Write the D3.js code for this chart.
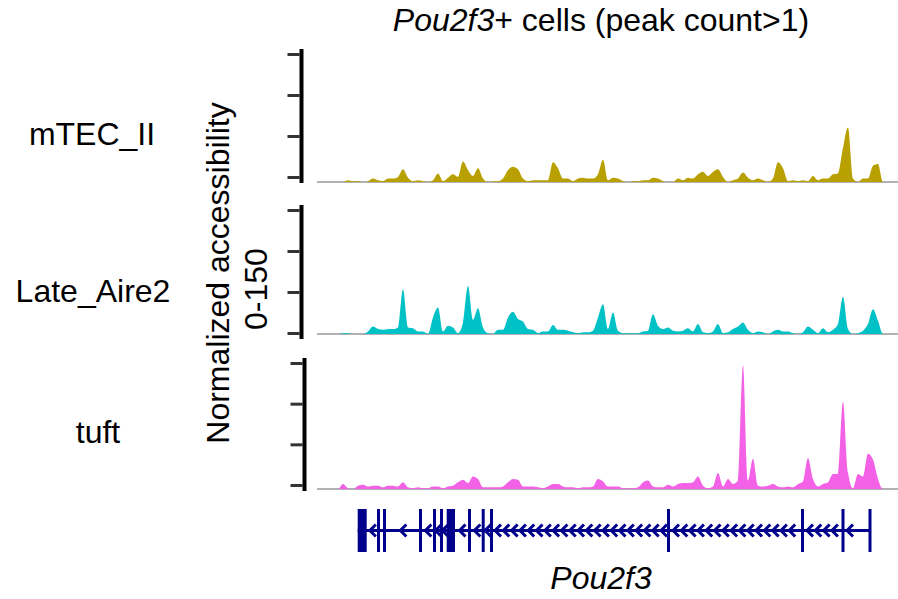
<!DOCTYPE html>
<html>
<head>
<meta charset="utf-8">
<script src="https://cdn.jsdelivr.net/npm/d3@7"></script>
<style>
  body { margin: 0; background: #fff; }
  text { font-family: "Liberation Sans", Arial, sans-serif; fill: #000; }
</style>
</head>
<body>
<div id="chart"></div>
<script>
// --- data (region in kb, coverage binned every 0.5 kb) ---
const regionKb = [0, 58];
const binKb = 0.5;
const yTicks = [0, 50, 100, 150];
const trackNames = ["mTEC_II", "Late_Aire2", "tuft"];

const mtecII = [
  0,0,0,0,0,0, 2,1,1,0,1, 4,2,1,4,4, 6,15,5,1,2, 1,0,2,10,1,
  5,9,6,24,14, 7,16,4,0,1, 1,4,14,18,15, 4,1,2,2,2, 2,23,16,4,4,
  1,4,5,4,4, 9,26,2,5,4, 1,0,1,1,2, 2,5,4,1,0, 0,4,2,5,4,
  9,12,7,12,15, 6,0,2,4,11, 5,2,4,2,0, 4,23,16,1,2, 1,2,1,7,2,
  4,4,9,10,40, 64,4,0,4,4, 19,21,0,0,0,0
];
const lateAire2 = [
  0,0,0,0,0,1, 1,0,0,0,3, 9,6,5,6,6, 8,54,8,7,3, 3,0,20,32,3,
  10,8,1,14,58, 17,31,8,1,0, 5,5,20,27,18, 15,6,5,1,3, 3,11,5,5,4,
  2,1,2,2,4, 20,36,6,26,4, 1,1,1,1,3, 4,24,10,6,8, 4,3,4,7,3,
  12,2,1,3,12, 1,2,6,9,14, 5,1,3,2,0, 3,5,3,3,1, 0,2,9,5,1,
  7,2,5,12,45, 6,0,1,4,12, 30,16,0,0,0,0
];
const tuft = [
  0,0,0,0,0,6, 1,0,4,5,3, 4,4,2,4,4, 3,8,2,1,2, 1,1,3,3,1,
  3,4,8,11,7, 15,12,2,2,2, 2,3,8,12,11, 3,3,3,2,1, 3,6,6,3,2,
  2,1,2,2,3, 12,9,3,3,3, 1,1,1,2,8, 10,3,2,2,5, 3,6,7,7,8,
  15,4,1,3,19, 3,12,6,10,147, 10,36,4,3,4, 6,3,2,3,2, 6,9,37,12,3,
  6,8,18,18,104, 20,1,18,15,42, 35,12,0,0,0,0
];

// Pou2f3 exons (kb), minus strand
const exons = [
  [3.97, 4.87], [5.9, 6.15], [6.5, 6.77], [10.1, 10.37], [11.5, 11.7],
  [12.2, 12.4], [12.87, 13.7], [15.0, 15.3], [16.37, 16.6], [17.2, 17.4],
  [34.9, 35.2], [48.3, 48.6], [52.35, 52.6], [55.05, 55.3]
];

// --- layout ---
const W = 898, H = 599;
const colors = ["#b8a000", "#00c1c5", "#f362e6"];
const tracks = [
  {name: trackNames[0], values: mtecII,    axisX: 301.5, tickTop: 54,  tickBottom: 177, base: 182, labelX: 92,  labelY: 145},
  {name: trackNames[1], values: lateAire2, axisX: 301.5, tickTop: 210, tickBottom: 333, base: 334, labelX: 93,  labelY: 302},
  {name: trackNames[2], values: tuft,      axisX: 304.5, tickTop: 363, tickBottom: 485, base: 489, labelX: 98,  labelY: 443}
];

const svg = d3.select("#chart").append("svg")
  .attr("width", W).attr("height", H);

const x = d3.scaleLinear().domain(regionKb).range([318, 898]);

tracks.forEach((t, k) => {
  const g = svg.append("g");
  const yData = d3.scaleLinear().domain([0, 150]).range([t.base, t.tickTop]);
  const yAxis = d3.scaleLinear().domain([0, 150]).range([t.tickBottom, t.tickTop]);

  // grey baseline
  g.append("line")
    .attr("x1", x(0) - 1).attr("x2", W)
    .attr("y1", t.base).attr("y2", t.base)
    .attr("stroke", "#999").attr("stroke-width", 1.6);

  // coverage
  const area = d3.area()
    .x((d, i) => x(i * binKb))
    .y0(yData(0))
    .y1(d => yData(d))
    .curve(d3.curveMonotoneX);
  g.append("path")
    .datum(t.values)
    .attr("d", area)
    .attr("fill", colors[k]);

  // y axis
  const ax = g.append("g")
    .attr("transform", `translate(${t.axisX - 2},0)`)
    .call(d3.axisLeft(yAxis).tickValues(yTicks).tickSize(12).tickFormat(""));
  ax.select(".domain").remove();
  ax.selectAll(".tick line").attr("stroke", "#333").attr("stroke-width", 3);
  g.append("line")
    .attr("x1", t.axisX).attr("x2", t.axisX)
    .attr("y1", t.tickTop - 5).attr("y2", t.tickBottom + 6)
    .attr("stroke", "#000").attr("stroke-width", 4);

  // track label
  g.append("text")
    .attr("x", t.labelX).attr("y", t.labelY)
    .attr("text-anchor", "middle")
    .style("font-size", "32px")
    .text(t.name);
});

// title
const title = svg.append("text")
  .attr("x", 601).attr("y", 31)
  .attr("text-anchor", "middle")
  .style("font-size", "32px");
title.append("tspan").style("font-style", "italic").text("Pou2f3");
title.append("tspan").text("+ cells (peak count>1)");

// y label
svg.append("text")
  .attr("transform", "translate(228.5,273) rotate(-90)")
  .attr("text-anchor", "middle")
  .style("font-size", "32px")
  .text("Normalized accessibility");
svg.append("text")
  .attr("transform", "translate(266.5,289) rotate(-90)")
  .attr("text-anchor", "middle")
  .style("font-size", "32px")
  .text("0-150");

// --- gene model ---
const navy = "#00008b";
const gTop = 509, gBot = 552, gMid = 530.5;
const gene = svg.append("g");
const geneStart = exons[0][0], geneEnd = exons[exons.length - 1][1];

gene.append("line")
  .attr("x1", x(geneStart)).attr("x2", x(geneEnd))
  .attr("y1", gMid).attr("y2", gMid)
  .attr("stroke", navy).attr("stroke-width", 3);

// chevrons in introns (pointing left)
const chevrons = [];
for (let i = 0; i < exons.length - 1; i++) {
  const a = x(exons[i][1]), b = x(exons[i + 1][0]);
  if (b - a > 35) {
    for (let c = a + 5; c < b - 4; c += 8.3) chevrons.push(c);
  } else if (b - a > 4) {
    chevrons.push(i === exons.length - 2 ? a + 5 : (a + b) / 2);
  }
}
gene.selectAll("path.chev")
  .data(chevrons)
  .join("path")
  .attr("class", "chev")
  .attr("d", c => `M${c + 4},${gMid - 6}L${c - 2},${gMid}L${c + 4},${gMid + 6}`)
  .attr("fill", "none")
  .attr("stroke", navy)
  .attr("stroke-width", 3);

gene.selectAll("rect.exon")
  .data(exons)
  .join("rect")
  .attr("class", "exon")
  .attr("x", d => x(d[0]))
  .attr("width", d => Math.max(3, x(d[1]) - x(d[0])))
  .attr("y", gTop)
  .attr("height", gBot - gTop)
  .attr("fill", navy);

svg.append("text")
  .attr("x", 601).attr("y", 589)
  .attr("text-anchor", "middle")
  .style("font-size", "32px")
  .style("font-style", "italic")
  .text("Pou2f3");
</script>
</body>
</html>
